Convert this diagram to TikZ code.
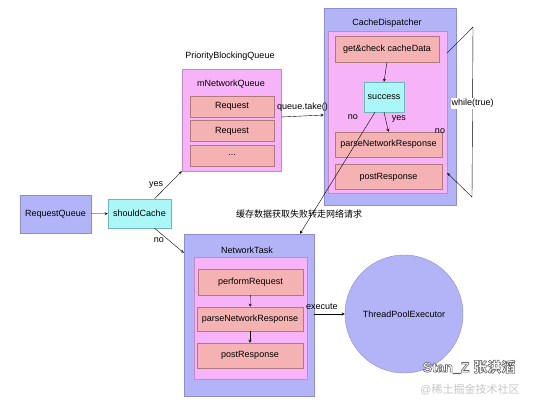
\documentclass[tikz,border=0pt]{standalone}
\usepackage{fontspec}
\setmainfont{Liberation Sans}
\newfontfamily\cjk{Noto Sans CJK SC}
\usetikzlibrary{positioning, arrows}
\definecolor{outerblue}{HTML}{B3B3F8}
\definecolor{outerline}{HTML}{8C8CD0}
\definecolor{innerpink}{HTML}{F7B3F7}
\definecolor{innerline}{HTML}{C58AC5}
\definecolor{reqred}{HTML}{F4B2B2}
\definecolor{reqline}{HTML}{B07A7A}
\definecolor{cyanbox}{HTML}{ABF7F7}
\definecolor{cyanline}{HTML}{6FB8B8}
\tikzset{
  ->,
  >=stealth,
  x=1pt, y=-1pt,
  every node/.style={font=\fontsize{9}{11}\selectfont, inner sep=0pt},
  outer/.style={draw=outerline, fill=outerblue},
  inner/.style={draw=innerline, fill=innerpink},
  reqbox/.style={draw=reqline, fill=reqred},
  cond/.style={draw=cyanline, fill=cyanbox},
}
\begin{document}
\begin{tikzpicture}
      \useasboundingbox (0,0) rectangle (533,408);

      % request queue and the cache check
      \node[outer, minimum width=71, minimum height=38] (rq) at (55.5,214) {RequestQueue};
      \node[cond, minimum width=63, minimum height=29] (sc) at (139.5,213.5) {shouldCache};

      % mNetworkQueue
      \node (pbq) at (230,56) {PriorityBlockingQueue};
      \node[inner, minimum width=99, minimum height=102] (mq) at (231.5,120) {};
      \node (mqlbl) at (231,84) {mNetworkQueue};
      \node[reqbox, minimum width=84, minimum height=21] (req1) at (232,106.5) {Request};
      \node[reqbox, minimum width=84, minimum height=21, below=3pt of req1] (req2) {Request};
      \node[reqbox, minimum width=84, minimum height=21, below=3pt of req2] (dots) {...};

      % CacheDispatcher
      \node[outer, minimum width=132, minimum height=197] (cd) at (390,106.5) {};
      \node (cdlbl) at (387,23) {CacheDispatcher};
      \node[inner, minimum width=119, minimum height=162] (cdin) at (387.5,112) {};
      \node[reqbox, minimum width=104, minimum height=26] (get) at (387,49) {get\&check cacheData};
      \node[cond, minimum width=40, minimum height=30] (ok) at (384,97) {success};
      \node[reqbox, minimum width=107, minimum height=25] (parse1) at (388.5,144.5) {parseNetworkResponse};
      \node[reqbox, minimum width=107, minimum height=25, below=7pt of parse1] (post1) {postResponse};
      \node (no2) at (440,131) {no};

      % NetworkTask
      \node[outer, minimum width=130, minimum height=162] (nt) at (249,315) {};
      \node (ntlbl) at (247,250) {NetworkTask};
      \node[inner, minimum width=113, minimum height=122] (ntin) at (250.5,318) {};
      \node[reqbox, minimum width=105, minimum height=26] (perf) at (250.5,282) {performRequest};
      \node[reqbox, minimum width=106, minimum height=24] (parse2) at (250,319) {parseNetworkResponse};
      \node[reqbox, minimum width=106, minimum height=25] (post2) at (250,355.5) {postResponse};

      \node[outer, circle, minimum size=118] (tp) at (404,314) {ThreadPoolExecutor};

      % watermark
      \node[font=\fontsize{14}{16}\selectfont\bfseries] (wm) at (469,367)
            {\special{pdf:literal direct 2 Tr 0.6 w 0.4 G 1 g}Stan\_Z \cjk 张洪滔\special{pdf:literal direct 0 Tr}};
      \node[font=\fontsize{11}{13}\selectfont, text=gray!45] (site) at (470,390) {@\cjk 稀土掘金技术社区};

      \draw (rq) -- (sc);
      \draw ([xshift=15pt]sc.north) -- node[pos=.35, above left=1pt]{yes} (mq.south west);
      \draw ([xshift=15pt]sc.south) -- node[pos=.35, below left=1pt]{no} ([yshift=-19pt]nt.north west);
      \draw ([yshift=3pt]mq.east) -- node[above=4pt]{queue.take()} ([yshift=-8.5pt]cd.west);
      \draw (get.south) -- (ok.north);
      \draw (ok.south) -- node[pos=.35, right=6pt]{yes} (parse1.north);
      \draw ([xshift=-9pt]ok.south) -- node[pos=.04, left=14pt]{no}
            node[pos=.84, xshift=-13pt]{\cjk 缓存数据获取失败转走网络请求} ([xshift=51pt]nt.north);
      \draw ([yshift=59pt]cdin.east) -- (473,27)
            -- node[pos=.45, fill=white, inner sep=1pt]{while(true)} (472,197)
            -- ([yshift=-61pt]cdin.east);
      \draw (perf) -- (parse2);
      \draw (parse2) -- (post2);
      \draw (nt.east |- tp.west) -- node[pos=.25, above=4pt]{execute} (tp.west);
    \end{tikzpicture}
\end{document}
